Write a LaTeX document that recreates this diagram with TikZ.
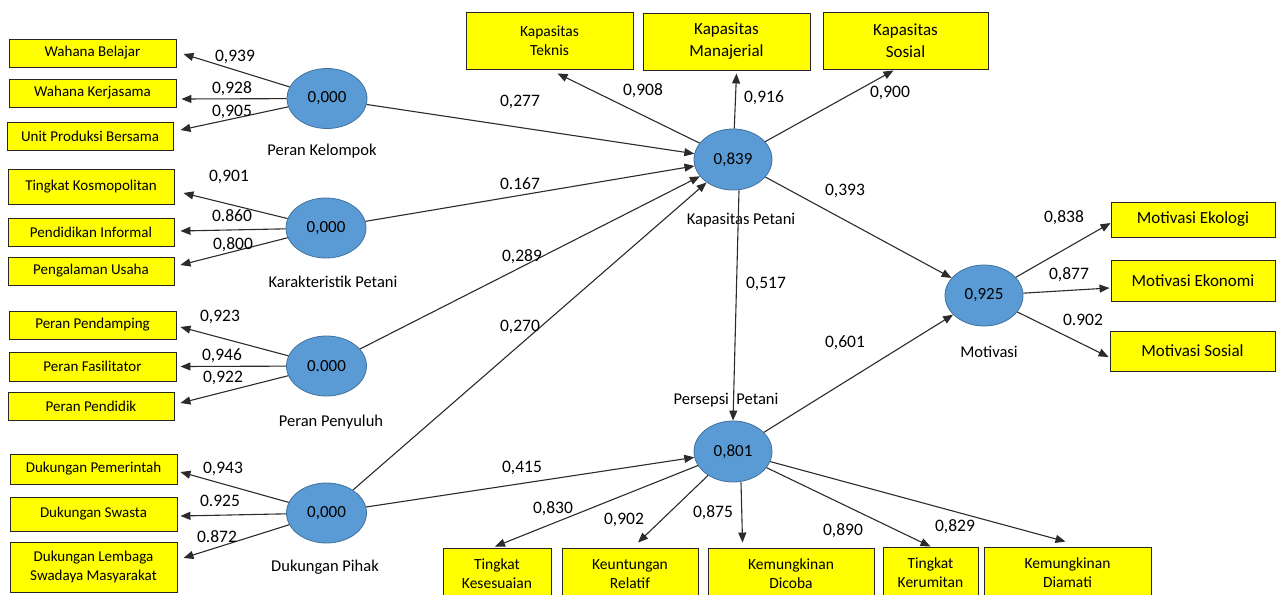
\documentclass[tikz,border=0pt]{standalone}
\usepackage{fontspec}
\setmainfont{Carlito}
\usetikzlibrary{arrows.meta,calc,shapes.geometric}
\definecolor{boxyellow}{HTML}{FFFF00}
\definecolor{ellfill}{HTML}{5B9BD5}
\definecolor{elldraw}{HTML}{41719C}
\definecolor{linegray}{HTML}{2B2B2B}
\tikzset{
 ind/.style={draw=black!85, fill=boxyellow, line width=0.9pt, inner sep=0pt, align=center, font=\fontsize{15}{19}\selectfont},
 lat/.style={ellipse, draw=elldraw, fill=ellfill, line width=0.8pt, inner sep=0pt, minimum width=80pt, minimum height=60pt, font=\fontsize{17}{20}\selectfont},
 nm/.style={font=\fontsize{16.5}{20}\selectfont, inner sep=0pt},
 cf/.style={font=\fontsize{17.5}{20}\selectfont, inner sep=0pt},
 arr/.style={draw=linegray, line width=1.1pt, -{Triangle[length=10pt,width=8pt]}},
}
\begin{document}
\begin{tikzpicture}[x=1pt,y=-1pt]
\useasboundingbox (0,0) rectangle (1276,594);
\clip (0,0) rectangle (1276,594);
% indicator boxes left
\node[ind, minimum width=167pt, minimum height=28pt] (wb) at (92.5,53) {Wahana Belajar};
\node[ind, minimum width=167pt, minimum height=28pt] (wk) at (92.5,93) {Wahana Kerjasama};
\node[ind, minimum width=166pt, minimum height=28pt] (up) at (90,136) {Unit Produksi Bersama};
\node[ind, minimum width=166pt, minimum height=35pt] (tk) at (91,186.5) {Tingkat Kosmopolitan};
\node[ind, minimum width=166pt, minimum height=28pt] (pi) at (91,232) {Pendidikan Informal};
\node[ind, minimum width=166pt, minimum height=28pt] (pu) at (91,271) {Pengalaman Usaha};
\node[ind, minimum width=167pt, minimum height=28pt] (ppd) at (92.5,325) {Peran Pendamping};
\node[ind, minimum width=167pt, minimum height=29pt] (pf) at (92.5,366.5) {Peran Fasilitator};
\node[ind, minimum width=166pt, minimum height=28pt] (ppk) at (91,406) {Peran Pendidik};
\node[ind, minimum width=167pt, minimum height=30pt] (dpm) at (93.5,469) {Dukungan Pemerintah};
\node[ind, minimum width=167pt, minimum height=34pt] (ds) at (93.5,514) {Dukungan Swasta};
\node[ind, minimum width=167pt, minimum height=50pt] (dl) at (93.5,567) {Dukungan Lembaga\\Swadaya Masyarakat};
% top boxes
\node[ind, minimum width=167pt, minimum height=57pt, font=\fontsize{15.5}{19}\selectfont] (kt) at (549.5,40.5) {Kapasitas\\Teknis};
\node[ind, minimum width=167pt, minimum height=57pt, font=\fontsize{17}{22}\selectfont] (km) at (726.5,41.5) {Kapasitas\\Manajerial};
\node[ind, minimum width=165pt, minimum height=57pt, font=\fontsize{17}{22}\selectfont] (ks) at (905.5,40.5) {Kapasitas\\Sosial};
% right boxes
\node[ind, minimum width=164pt, minimum height=35pt, font=\fontsize{17}{20}\selectfont] (me) at (1193,219.5) {Motivasi Ekologi};
\node[ind, minimum width=164pt, minimum height=41pt, font=\fontsize{17}{20}\selectfont] (mek) at (1193,280.5) {Motivasi Ekonomi};
\node[ind, minimum width=165pt, minimum height=40pt, font=\fontsize{17}{20}\selectfont] (ms) at (1192.5,351) {Motivasi Sosial};
% bottom boxes
\node[ind, minimum width=108pt, minimum height=52pt, font=\fontsize{15.5}{19}\selectfont] (ts) at (497,574) {Tingkat\\Kesesuaian};
\node[ind, minimum width=136pt, minimum height=52pt, font=\fontsize{15.5}{19}\selectfont] (kr) at (630,574) {Keuntungan\\Relatif};
\node[ind, minimum width=166pt, minimum height=52pt, font=\fontsize{15.5}{19}\selectfont] (kd) at (791,574) {Kemungkinan\\Dicoba};
\node[ind, minimum width=95pt, minimum height=52pt, font=\fontsize{15.5}{19}\selectfont] (tkr) at (930.5,573) {Tingkat\\Kerumitan};
\node[ind, minimum width=167pt, minimum height=52pt, font=\fontsize{15.5}{19}\selectfont] (kdm) at (1067.5,573) {Kemungkinan\\Diamati};
% latent variables
\node[lat] (pk) at (327,98.5) {0,000};
\node[lat] (kp) at (326,228) {0,000};
\node[lat] (pp) at (326.5,366) {0.000};
\node[lat] (dp) at (326.5,513) {0,000};
\node[lat, minimum width=78pt, minimum height=61pt] (kap) at (733,159.5) {0,839};
\node[lat, minimum width=78pt, minimum height=61pt] (per) at (733,451.5) {0,801};
\node[lat, minimum width=78pt, minimum height=61pt] (mot) at (984,295.5) {0,925};
% names
\node[nm] (npk) at (322,151) {Peran Kelompok};
\node[nm] (nkp) at (333,282) {Karakteristik Petani};
\node[nm] (npp) at (331,422) {Peran Penyuluh};
\node[nm] (ndp) at (325,567) {Dukungan Pihak};
\node[nm] (nkap) at (741,220) {Kapasitas Petani};
\node[nm] (nper) at (726,400) {Persepsi~ Petani};
\node[nm] (nmot) at (989,352) {Motivasi};
% arrows left
\draw[arr] (pk) -- ($(wb.east)+(7,1)$);
\draw[arr] (pk) -- ($(wk.east)+(5,6)$);
\draw[arr] (pk) -- ($(up.east)+(7,-6)$);
\draw[arr] (kp) -- ($(tk.east)+(9,6.5)$);
\draw[arr] (kp) -- ($(pi.east)+(6,-1)$);
\draw[arr] (kp) -- ($(pu.east)+(6,-6)$);
\draw[arr] (pp) -- ($(ppd.east)+(4,2)$);
\draw[arr] (pp) -- ($(pf.east)+(4,0)$);
\draw[arr] (pp) -- ($(ppk.east)+(6,-3)$);
\draw[arr] (dp) -- ($(dpm.east)+(3,3)$);
\draw[arr] (dp) -- ($(ds.east)+(3,2)$);
\draw[arr] (dp) -- ($(dl.east)+(6,-9)$);
% structural
\draw[arr] (pk) -- (kap);
\draw[arr] (kp) -- (kap);
\draw[arr] (pp) -- (kap);
\draw[arr] (dp) -- (kap);
\draw[arr] (dp) -- (per);
\draw[arr] ($(kap.south)+(6,0)$) -- (per.north);
\draw[arr] (kap) -- (mot);
\draw[arr] (per) -- (mot);
% kapasitas indicators
\draw[arr] (kap) -- ($(kt.south)+(8,4)$);
\draw[arr] (kap) -- ($(km.south)+(10,3)$);
\draw[arr] (kap) -- ($(ks.south)+(-12,1)$);
% motivasi indicators
\draw[arr] (mot) -- ($(me.west)+(0,3.5)$);
\draw[arr] (mot) -- ($(mek.west)+(-1,7.5)$);
\draw[arr] (mot) -- ($(ms.west)+(-1,6)$);
% persepsi indicators
\draw[arr] (per) -- ($(ts.north)+(-2,-1)$);
\draw[arr] (per) -- ($(kr.north)+(8,-5)$);
\draw[arr] ($(per.south)+(8,0)$) -- ($(kd.north west)+(35,-5)$);
\draw[arr] (per) -- (tkr.north);
\draw[arr] (per) -- ($(kdm.north)+(-2,-5)$);
% coefficients
\node[cf] (c1) at (235,57) {0,939};
\node[cf] (c2) at (232,89) {0,928};
\node[cf] (c3) at (232,112) {0,905};
\node[cf] (c4) at (229,177) {0,901};
\node[cf] (c5) at (232,216) {0.860};
\node[cf] (c6) at (233,245) {0,800};
\node[cf] (c7) at (220,317) {0,923};
\node[cf] (c8) at (222,356) {0,946};
\node[cf] (c9) at (223,378) {0,922};
\node[cf] (c10) at (223,469) {0,943};
\node[cf] (c11) at (220,501) {0.925};
\node[cf] (c12) at (217,537) {0.872};
\node[cf] (c13) at (520,102) {0,277};
\node[cf] (c14) at (520,184) {0.167};
\node[cf] (c15) at (522,257) {0,289};
\node[cf] (c16) at (520,327) {0,270};
\node[cf] (c17) at (522,468) {0,415};
\node[cf] (c18) at (643,91) {0,908};
\node[cf] (c19) at (764,98) {0,916};
\node[cf] (c20) at (890,93) {0,900};
\node[cf] (c21) at (766,284) {0,517};
\node[cf] (c22) at (845,191) {0,393};
\node[cf] (c23) at (845,343) {0,601};
\node[cf] (c24) at (1064,218) {0,838};
\node[cf] (c25) at (1069,275) {0,877};
\node[cf] (c26) at (1083,320) {0.902};
\node[cf] (c27) at (553,509) {0,830};
\node[cf] (c28) at (624,520) {0,902};
\node[cf] (c29) at (713,513) {0,875};
\node[cf] (c30) at (843,531) {0,890};
\node[cf] (c31) at (955,527) {0,829};
\end{tikzpicture}
\end{document}
